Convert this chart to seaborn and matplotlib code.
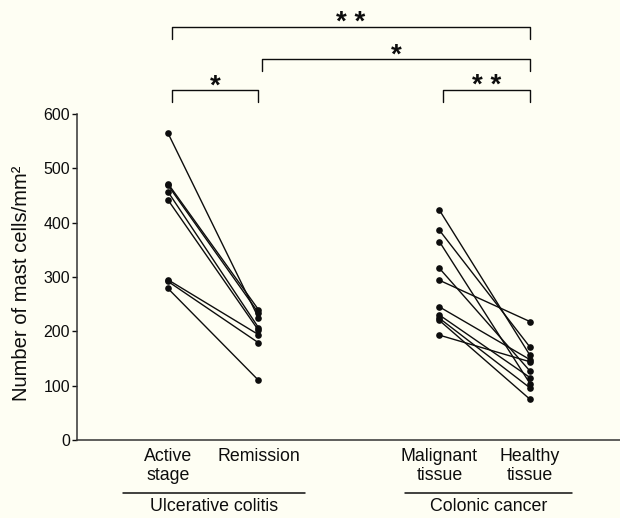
import pandas as pd
import matplotlib
matplotlib.use("Agg")
import matplotlib.pyplot as plt
import seaborn as sns

active_stage = [565, 472, 469, 457, 442, 295, 292, 279]
remission = [225, 240, 234, 207, 202, 194, 179, 110]
malignant_tissue = [423, 386, 365, 316, 294, 245, 230, 224, 220, 193]
healthy_tissue = [156, 171, 104, 127, 218, 148, 115, 96, 75, 144]

category_labels = ["Active\nstage", "Remission", "Malignant\ntissue", "Healthy\ntissue"]
category_pos = [0, 1, 3, 4]
group_labels = ["Ulcerative colitis", "Colonic cancer"]
y_ticks = [0, 100, 200, 300, 400, 500, 600]
y_label = "Number of mast cells/mm²"

# significance brackets: (left category index, right category index, stars)
brackets = [(0, 3, "* *"), (1, 3, "*"), (0, 1, "*"), (2, 3, "* *")]
bracket_levels = [760, 701, 644, 644]

BG = "#fefef3"
INK = "#0d0d0d"


def paired_frame(before, after, x0, x1, tag):
    rows = []
    for i, (a, b) in enumerate(zip(before, after)):
        rows.append({"x": x0, "value": a, "pair": f"{tag}{i}"})
        rows.append({"x": x1, "value": b, "pair": f"{tag}{i}"})
    return rows


df = pd.DataFrame(
    paired_frame(active_stage, remission, category_pos[0], category_pos[1], "uc")
    + paired_frame(malignant_tissue, healthy_tissue, category_pos[2], category_pos[3], "cc")
)

sns.set_theme(style="ticks")
plt.rcParams["font.family"] = ["Liberation Sans", "DejaVu Sans"]

fig = plt.figure(figsize=(6.2, 5.18), dpi=100, facecolor=BG)
ax = fig.add_axes([77 / 620, 78 / 518, 543 / 620, 434.6 / 518])
ax.set_facecolor(BG)

sns.lineplot(data=df, x="x", y="value", units="pair", estimator=None,
             color=INK, linewidth=1.0, marker="o", markersize=4.8,
             markeredgewidth=0, ax=ax, legend=False)

ax.set_xlim(-1.005, 4.995)
ax.set_ylim(0, 800)
ax.set_yticks(y_ticks)
ax.tick_params(axis="y", labelsize=11.5, length=3.5, width=1, pad=1.5, colors=INK)
ax.set_xticks(category_pos)
ax.set_xticklabels(category_labels, fontsize=12.8, linespacing=1.1)
ax.tick_params(axis="x", length=0, pad=6, colors=INK)

ax.set_xlabel("")
ax.set_ylabel(y_label, fontsize=14.5, color=INK)
ax.yaxis.set_label_coords(-0.084, 0.36)

sns.despine(ax=ax)
ax.spines["left"].set_bounds(0, 600)
for side in ("left", "bottom"):
    ax.spines[side].set_linewidth(1.1)
    ax.spines[side].set_color("#333333")

# brackets and stars
drop = 21
for (l, r, stars), lvl in zip(brackets, bracket_levels):
    xl, xr = category_pos[l] + 0.04, category_pos[r] + 0.0
    ax.plot([xl, xl, xr, xr], [lvl - drop, lvl, lvl, lvl - drop],
            color=INK, linewidth=1.0, clip_on=False)
    ax.text((xl + xr) / 2, lvl - 17, stars, ha="center", va="bottom",
            fontsize=20, fontweight="bold", color=INK)

# group underlines and names below the axis
group_spans = [(-0.497, 1.514), (2.62, 4.464)]
for (x0, x1), name in zip(group_spans, group_labels):
    ax.plot([x0, x1], [-97, -97], color=INK, linewidth=1.1, clip_on=False)
    ax.text((x0 + x1) / 2, -107, name, ha="center", va="top",
            fontsize=12.8, color=INK)

fig.savefig("out.png", dpi=100, facecolor=BG)
